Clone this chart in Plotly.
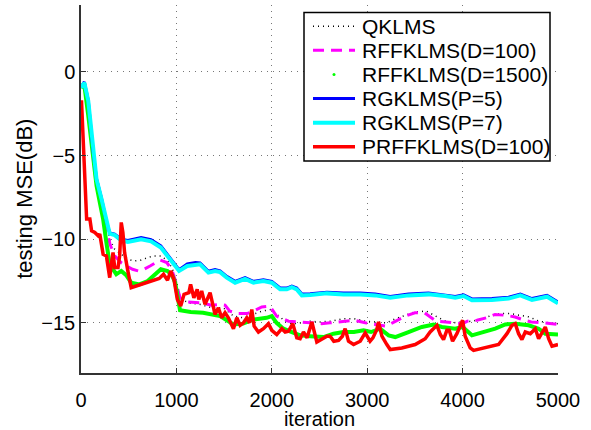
import plotly.graph_objects as go

# ---------------- data ----------------
q_x = [0, 35, 76, 128, 163, 215, 266, 301, 353, 422, 491, 560, 630, 700, 770, 840, 910, 960, 1000, 1040,
       1120, 1250, 1370, 1490, 1600, 1700, 1800, 1900, 1990, 2070, 2160, 2260, 2400, 2500, 2620, 2750, 2860,
       2980, 3100, 3200, 3300, 3400, 3500, 3620, 3720, 3800, 3900, 4000, 4100, 4200, 4300, 4400, 4500, 4600,
       4700, 4800, 4900, 5000]
q_y = [-0.94, -0.65, -1.8, -4.9, -6.4, -7.6, -9.0, -10.0, -10.6, -10.9, -11.2, -11.3, -11.25, -11.1, -11.0,
       -11.0, -11.3, -11.8, -12.5, -13.5, -13.8, -13.9, -14.1, -14.1, -14.6, -14.7, -14.5, -14.3, -14.2, -14.6,
       -15.0, -15.05, -14.9, -14.95, -14.9, -14.75, -14.75, -14.9, -14.95, -15.0, -14.75, -14.55, -14.35, -14.3,
       -14.6, -14.85, -15.0, -14.95, -14.9, -14.8, -14.55, -14.45, -14.45, -14.55, -14.65, -14.9, -15.0, -15.05]

m_x = [0, 35, 76, 128, 163, 215, 266, 304, 353, 420, 479, 540, 601, 660, 724, 780, 829, 899, 950, 986, 1038,
       1122, 1248, 1371, 1458, 1510, 1560, 1650, 1740, 1810, 1895, 1980, 2050, 2175, 2297, 2400, 2520, 2610,
       2700, 2800, 2870, 2980, 3070, 3200, 3300, 3400, 3500, 3600, 3720, 3800, 3940, 4000, 4050, 4150, 4250,
       4340, 4450, 4550, 4650, 4720, 4850, 5000]
m_y = [-0.94, -0.7, -1.9, -5.0, -6.5, -7.7, -9.3, -10.3, -11.0, -11.4, -11.6, -11.8, -11.9, -11.8, -11.6,
       -11.4, -11.25, -11.4, -11.8, -12.4, -13.5, -13.75, -13.8, -13.95, -13.9, -13.95, -14.3, -14.45, -14.45,
       -14.3, -14.05, -14.0, -14.6, -14.9, -14.95, -15.0, -15.05, -15.0, -14.95, -14.85, -14.85, -15.0, -15.1,
       -15.2, -14.9, -14.6, -14.4, -14.4, -14.9, -14.95, -15.05, -15.05, -14.9, -14.85, -14.7, -14.5, -14.55,
       -14.65, -14.85, -14.95, -15.0, -15.1]

g_x = [0, 35, 76, 128, 163, 197, 232, 266, 301, 336, 370, 422, 474, 526, 612, 699, 768, 837, 907, 958, 987,
       1038, 1150, 1280, 1458, 1598, 1700, 1808, 1945, 2000, 2050, 2122, 2210, 2297, 2402, 2542, 2647, 2752,
       2860, 2962, 3040, 3136, 3224, 3294, 3433, 3573, 3696, 3783, 3923, 4000, 4098, 4203, 4342, 4447, 4552,
       4692, 4797, 4867, 5000]
g_y = [-0.94, -0.8, -2.6, -5.45, -6.8, -7.8, -8.8, -10.2, -11.5, -11.8, -12.1, -11.9, -12.15, -12.6, -12.7,
       -12.5, -12.15, -11.8, -11.9, -12.2, -12.6, -14.25, -14.35, -14.4, -14.6, -15.1, -15.05, -14.8, -14.7,
       -14.6, -15.0, -15.35, -15.55, -15.75, -15.8, -15.85, -15.65, -15.55, -15.55, -15.45, -15.55, -15.35,
       -15.75, -15.85, -15.55, -15.25, -15.1, -15.25, -15.35, -15.25, -15.75, -15.6, -15.35, -15.1, -15.05,
       -15.15, -15.35, -15.65, -15.7]

c_x = [0, 35, 76, 128, 163, 215, 266, 301, 353, 422, 491, 630, 734, 837, 941, 1028, 1114, 1200, 1248, 1336,
       1405, 1458, 1528, 1615, 1720, 1808, 1912, 2000, 2087, 2157, 2210, 2262, 2315, 2402, 2577, 2752, 2927,
       3084, 3241, 3433, 3643, 3818, 3923, 4010, 4098, 4308, 4482, 4605, 4727, 4885, 5000]
c_y = [-0.94, -0.65, -1.73, -4.86, -6.43, -7.6, -8.98, -9.67, -9.76, -10.07, -10.17, -10.0, -10.13, -10.5,
       -11.26, -11.9, -11.6, -11.5, -11.5, -12.0, -11.9, -11.97, -12.3, -12.6, -12.37, -12.6, -12.5, -12.6,
       -13.0, -13.0, -12.87, -13.0, -13.36, -13.34, -13.24, -13.3, -13.3, -13.36, -13.5, -13.36, -13.3, -13.4,
       -13.5, -13.4, -13.65, -13.63, -13.55, -13.36, -13.63, -13.44, -13.83]

b_y = [-0.9, -0.6, -1.7, -4.82, -6.4, -7.56, -8.93, -9.62, -9.7, -10.0, -10.08, -9.9, -10.03, -10.4,
       -11.18, -11.82, -11.48, -11.4, -11.42, -11.92, -11.82, -11.9, -12.22, -12.52, -12.3, -12.52, -12.42,
       -12.52, -12.92, -12.92, -12.8, -12.92, -13.28, -13.26, -13.17, -13.22, -13.22, -13.28, -13.42, -13.28,
       -13.22, -13.32, -13.42, -13.32, -13.57, -13.55, -13.47, -13.28, -13.55, -13.36, -13.75]

r_x = [5, 24, 42, 59, 93, 111, 145, 180, 197, 232, 266, 301, 318, 336, 353, 388, 405, 422, 439, 457, 491, 526,
       578, 664, 751, 820, 865, 907, 941, 976, 1010, 1045, 1080, 1131, 1149, 1183, 1218, 1235, 1265, 1300,
       1353, 1405, 1440, 1475, 1510, 1545, 1598, 1633, 1668, 1703, 1738, 1766, 1790, 1815, 1860, 1912, 1965,
       2000, 2052, 2105, 2140, 2175, 2220, 2262, 2297, 2332, 2370, 2420, 2472, 2525, 2577, 2611, 2650, 2700,
       2740, 2769, 2804, 2857, 2927, 2979, 3030, 3060, 3101, 3119, 3154, 3206, 3241, 3363, 3503, 3608, 3660,
       3731, 3766, 3800, 3835, 3860, 3895, 3940, 3975, 4000, 4027, 4080, 4115, 4237, 4377, 4465, 4517, 4552,
       4587, 4622, 4657, 4710, 4762, 4797, 4832, 4867, 4902, 4937, 5000]
r_y = [-1.7, -4.1, -6.6, -8.8, -8.8, -9.5, -9.6, -9.8, -9.7, -10.9, -11.0, -12.3, -11.5, -10.8, -11.7, -11.7,
       -11.0, -9.0, -9.6, -10.8, -11.9, -12.9, -12.8, -12.65, -12.45, -12.35, -12.1, -12.45, -11.9, -12.45,
       -13.6, -14.0, -13.3, -13.2, -12.7, -13.5, -13.0, -13.6, -13.1, -13.9, -13.2, -14.5, -14.1, -14.7, -14.4,
       -14.7, -15.35, -14.7, -15.15, -15.0, -14.7, -15.0, -14.2, -15.2, -15.55, -15.35, -15.05, -15.45, -15.7,
       -15.35, -15.55, -15.5, -15.05, -15.9, -15.95, -15.55, -15.9, -14.95, -16.15, -16.0, -15.8, -15.8, -16.1,
       -16.05, -15.8, -15.35, -16.1, -16.3, -16.1, -15.6, -16.1, -15.9, -15.4, -14.95, -15.8, -16.3, -16.6,
       -16.5, -16.3, -15.95, -15.55, -15.15, -15.7, -16.0, -15.45, -15.45, -16.1, -15.65, -15.15, -14.85, -15.8,
       -16.5, -16.65, -16.5, -16.3, -15.65, -15.15, -15.05, -15.65, -16.0, -15.55, -15.65, -15.35, -15.95,
       -15.55, -15.25, -15.95, -16.4, -16.3]

names = ["QKLMS", "RFFKLMS(D=100)", "RFFKLMS(D=1500)", "RGKLMS(P=5)", "RGKLMS(P=7)", "PRFFKLMS(D=100)"]
x_ticks = [0, 1000, 2000, 3000, 4000, 5000]
y_ticks = [-15, -10, -5, 0]

FONT = "Liberation Sans, Arial, sans-serif"

styles = [
    dict(color="black", width=1.5, dash="1px,4px"),
    dict(color="#ff00ff", width=3, dash="11px,7px"),
    dict(color="#00ff00", width=4, dash="solid"),
    dict(color="#0000ff", width=3, dash="solid"),
    dict(color="#00ffff", width=4, dash="solid"),
    dict(color="#ff0000", width=3.5, dash="solid"),
]

series = [(q_x, q_y), (m_x, m_y), (g_x, g_y), (c_x, b_y), (c_x, c_y), (r_x, r_y)]

fig = go.Figure()
for (xs, ys), nm, st in zip(series, names, styles):
    fig.add_trace(go.Scatter(x=xs, y=ys, mode="lines", name=nm, line=st, showlegend=False))

# ---- legend box drawn in paper coordinates (MATLAB-style compact legend) ----
PLOT_L, PLOT_R, PLOT_T, PLOT_B = 81, 558, 5, 381
def px_x(p):
    return (p - PLOT_L) / (PLOT_R - PLOT_L)
def px_y(p):
    return 1 - (p - PLOT_T) / (PLOT_B - PLOT_T)

leg_left, leg_right, leg_top, leg_bottom = 304, 550, 12.7, 164.3
row0, row_gap = 26.7, 24.65
sample_x0, sample_x1, text_x = 313, 355, 360

shapes = [dict(type="rect", xref="paper", yref="paper",
               x0=px_x(leg_left), x1=px_x(leg_right), y0=px_y(leg_bottom), y1=px_y(leg_top),
               line=dict(color="black", width=1.5), fillcolor="white", layer="above")]
annotations = []
for i, (nm, st) in enumerate(zip(names, styles)):
    yrow = px_y(row0 + i * row_gap)
    if i == 2:
        shapes.append(dict(type="circle", xref="paper", yref="paper",
                           xsizemode="pixel", ysizemode="pixel",
                           xanchor=px_x((sample_x0 + sample_x1) / 2), yanchor=yrow,
                           x0=-1.5, x1=1.5, y0=-1.5, y1=1.5,
                           fillcolor=st["color"], line=dict(width=0), layer="above"))
    else:
        shapes.append(dict(type="line", xref="paper", yref="paper",
                           x0=px_x(sample_x0), x1=px_x(sample_x1), y0=yrow, y1=yrow,
                           line=dict(color=st["color"], width=st["width"], dash=st["dash"]),
                           layer="above"))
    annotations.append(dict(text=nm, xref="paper", yref="paper", x=px_x(text_x), y=yrow,
                            xanchor="left", yanchor="middle", showarrow=False,
                            font=dict(family=FONT, size=21, color="black")))

# y-axis title (placed like the MATLAB label)
annotations.append(dict(text="testing MSE(dB)", xref="paper", yref="paper",
                        x=px_x(25), y=px_y(203), xanchor="center", yanchor="middle",
                        textangle=-90, showarrow=False,
                        font=dict(family=FONT, size=22, color="black")))

axis_common = dict(
    showgrid=True, gridcolor="#777777", griddash="1px,5px", gridwidth=1,
    zeroline=False, showline=True, linecolor="#333333", linewidth=1.5,
    ticks="inside", ticklen=5, tickcolor="#333333",
    tickfont=dict(family=FONT, size=20, color="black"),
)

fig.update_layout(
    width=591, height=430,
    margin=dict(l=PLOT_L, r=591 - PLOT_R, t=PLOT_T, b=430 - PLOT_B),
    paper_bgcolor="white", plot_bgcolor="white",
    font=dict(family=FONT, size=20, color="black"),
    showlegend=False,
    shapes=shapes,
    annotations=annotations,
    xaxis=dict(range=[0, 5000], tickvals=x_ticks, ticktext=[str(v) for v in x_ticks],
               title=dict(text="iteration", standoff=0, font=dict(family=FONT, size=20)),
               ticklabelstandoff=8, **axis_common),
    yaxis=dict(range=[-18, 4], tickvals=y_ticks, ticktext=["\u221215", "\u221210", "\u22125", "0"],
               ticklabelstandoff=0, **axis_common),
)

fig.write_html("out.html")
